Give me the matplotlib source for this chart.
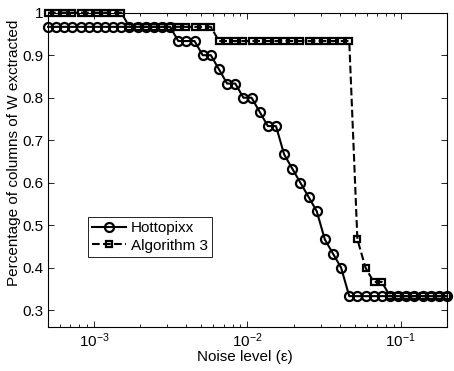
import matplotlib
matplotlib.use("Agg")
import matplotlib.pyplot as plt
from matplotlib.ticker import FixedLocator, LogLocator, NullFormatter

plt.rcParams['font.family'] = ['Liberation Sans', 'DejaVu Sans']
plt.rcParams['mathtext.fontset'] = 'custom'
plt.rcParams['mathtext.rm'] = 'Liberation Sans'
plt.rcParams['mathtext.it'] = 'Liberation Sans:italic'
plt.rcParams['mathtext.bf'] = 'Liberation Sans:bold'

# noise levels (epsilon), log-spaced samples
noise = [0.0005, 0.0005651, 0.0006386, 0.0007217, 0.0008155, 0.0009215,
         0.001041, 0.001177, 0.00133, 0.001503, 0.001698, 0.001919,
         0.002169, 0.002451, 0.002769, 0.003129, 0.003536, 0.003996,
         0.004516, 0.005103, 0.005767, 0.006517, 0.007364, 0.008322,
         0.009404, 0.01063, 0.01201, 0.01357, 0.01534, 0.01733,
         0.01958, 0.02213, 0.02501, 0.02826, 0.03194, 0.03609,
         0.04078, 0.04608, 0.05208, 0.05885, 0.0665, 0.07515,
         0.08492, 0.09597, 0.1085, 0.1226, 0.1385, 0.1565, 0.1768, 0.2]

hottopixx = [0.9667] * 16 + [0.9333] * 3 + [0.9] * 2 + [0.8667] + [0.8333] * 2 \
    + [0.8] * 2 + [0.7667] + [0.7333] * 2 + [0.6667, 0.6333, 0.6, 0.5667, 0.5333,
                                             0.4667, 0.4333, 0.4] + [0.3333] * 13
algo3 = [1.0] * 10 + [0.9667] * 11 + [0.9333] * 17 + [0.4667, 0.4] \
    + [0.3667] * 2 + [0.3333] * 8

yticks = [0.3, 0.4, 0.5, 0.6, 0.7, 0.8, 0.9, 1.0]
yticklabels = ['0.3', '0.4', '0.5', '0.6', '0.7', '0.8', '0.9', '1']

fig = plt.figure(figsize=(4.54, 3.71), dpi=100)
ax = fig.add_axes([0.1057, 0.1178, 0.8789, 0.848])

ax.plot(noise, hottopixx, '-o', color='k', lw=1.5, ms=6.5, mfc='none',
        mew=1.6, label='Hottopixx', clip_on=False, zorder=3)
ax.plot(noise, algo3, '--s', color='k', lw=1.5, ms=4.3, mfc='none',
        mew=1.6, label='Algorithm 3', clip_on=False, zorder=3)

ax.set_xscale('log')
ax.set_xlim(5e-4, 0.2)
ax.set_ylim(0.26, 1.0)
ax.yaxis.set_major_locator(FixedLocator(yticks))
ax.set_yticklabels(yticklabels)
ax.xaxis.set_major_locator(LogLocator(base=10))
ax.xaxis.set_minor_locator(LogLocator(base=10, subs=range(2, 10)))
ax.xaxis.set_minor_formatter(NullFormatter())

ax.tick_params(which='both', direction='in', top=True, right=True,
               labelsize=11, width=0.6)
ax.tick_params(which='major', length=4)
ax.tick_params(which='minor', length=2)
ax.tick_params(axis='x', pad=3)
for s in ax.spines.values():
    s.set_linewidth(0.8)

ax.set_xlabel('Noise level (ε)', fontsize=11)
ax.set_ylabel('Percentage of columns of W exctracted', fontsize=11)
ax.xaxis.set_label_coords(0.494, -0.072)
ax.yaxis.set_label_coords(-0.085, 0.554)
ax.yaxis.label.set_va('center')

leg = ax.legend(loc='lower left', bbox_to_anchor=(0.1, 0.223), fontsize=11,
                fancybox=False, edgecolor='k', framealpha=1, handlelength=2.2,
                borderpad=0.3, labelspacing=0.2, handletextpad=0.3,
                borderaxespad=0)
leg.get_frame().set_linewidth(0.6)

fig.savefig('out.png', dpi=100)
